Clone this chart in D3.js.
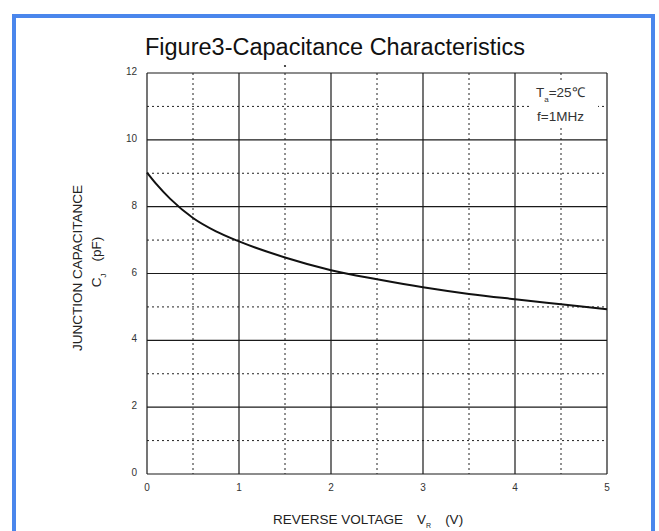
<!DOCTYPE html>
<html>
<head>
<meta charset="utf-8">
<script src="https://cdn.jsdelivr.net/npm/d3@7"></script>
<style>
  body { margin: 0; background: #fff; }
  text { font-family: "Liberation Sans", Arial, sans-serif; }
</style>
</head>
<body>
<div class="chart"></div>
<script>
const voltage = [0, 0.1, 0.25, 0.5, 0.75, 1, 1.5, 2, 2.5, 3, 3.5, 4, 4.5, 5];
const capacitance = [9.02, 8.68, 8.24, 7.66, 7.26, 6.96, 6.48, 6.1, 5.83, 5.59, 5.39, 5.23, 5.08, 4.93];
const xTicks = [0, 1, 2, 3, 4, 5];
const yTicks = [0, 2, 4, 6, 8, 10, 12];
const xMinor = [0.5, 1.5, 2.5, 3.5, 4.5];
const yMinor = [1, 3, 5, 7, 9, 11];

const width = 659;
const height = 531;
const margin = { top: 73, right: 52, bottom: 57, left: 147 };

const svg = d3
  .select(".chart")
  .append("svg")
  .attr("width", width)
  .attr("height", height);

svg.append("rect")
  .attr("x", 14).attr("y", 16)
  .attr("width", 639).attr("height", 600)
  .attr("fill", "#fff")
  .attr("stroke", "#4a86ec")
  .attr("stroke-width", 4);

const x = d3.scaleLinear().domain([0, 5]).range([margin.left, width - margin.right]);
const y = d3.scaleLinear().domain([0, 12]).range([height - margin.bottom, margin.top]);

// dotted minor grid
svg.append("g")
  .selectAll("line")
  .data(xMinor)
  .join("line")
  .attr("x1", (d) => x(d)).attr("x2", (d) => x(d))
  .attr("y1", y(12)).attr("y2", y(0))
  .attr("stroke", "#222")
  .attr("stroke-width", 1)
  .attr("stroke-dasharray", "2,3");

svg.append("g")
  .selectAll("line")
  .data(yMinor)
  .join("line")
  .attr("x1", x(0)).attr("x2", x(5))
  .attr("y1", (d) => y(d)).attr("y2", (d) => y(d))
  .attr("stroke", "#222")
  .attr("stroke-width", 1)
  .attr("stroke-dasharray", "2,3");

// solid major grid
svg.append("g")
  .selectAll("line")
  .data(xTicks)
  .join("line")
  .attr("x1", (d) => x(d)).attr("x2", (d) => x(d))
  .attr("y1", y(12)).attr("y2", y(0))
  .attr("stroke", "#1a1a1a")
  .attr("stroke-width", 1.2);

svg.append("g")
  .selectAll("line")
  .data(yTicks)
  .join("line")
  .attr("x1", x(0)).attr("x2", x(5))
  .attr("y1", (d) => y(d)).attr("y2", (d) => y(d))
  .attr("stroke", "#1a1a1a")
  .attr("stroke-width", 1.2);

// white box behind conditions
svg.append("rect")
  .attr("x", 530).attr("y", 80)
  .attr("width", 68).attr("height", 48)
  .attr("fill", "#fff");

// curve
svg.append("path")
  .datum(voltage.map((v, i) => [v, capacitance[i]]))
  .attr("fill", "none")
  .attr("stroke", "#111")
  .attr("stroke-width", 2)
  .attr("d", d3.line().x((d) => x(d[0])).y((d) => y(d[1])).curve(d3.curveMonotoneX));

// stray mark above the plot
svg.append("circle")
  .attr("cx", x(1.5)).attr("cy", y(12) - 7)
  .attr("r", 1.1)
  .attr("fill", "#222");

// tick labels
svg.append("g")
  .selectAll("text")
  .data(yTicks)
  .join("text")
  .attr("x", x(0) - 10)
  .attr("y", (d) => y(d) + 2)
  .attr("text-anchor", "end")
  .style("font-size", "10px")
  .attr("fill", "#333")
  .text((d) => d);

svg.append("g")
  .selectAll("text")
  .data(xTicks)
  .join("text")
  .attr("x", (d) => x(d))
  .attr("y", y(0) + 17)
  .attr("text-anchor", "middle")
  .style("font-size", "10px")
  .attr("fill", "#333")
  .text((d) => d);

// title
svg.append("text")
  .attr("x", 335)
  .attr("y", 55)
  .attr("text-anchor", "middle")
  .style("font-size", "23.5px")
  .attr("fill", "#111")
  .text("Figure3-Capacitance Characteristics");

// conditions
const cond = svg.append("text")
  .attr("x", 536).attr("y", 97)
  .style("font-size", "13.5px")
  .attr("fill", "#333");
cond.append("tspan").text("T");
cond.append("tspan").attr("dy", 5).style("font-size", "8px").text("a");
cond.append("tspan").attr("dy", -5).text("=25℃");

svg.append("text")
  .attr("x", 537).attr("y", 121)
  .style("font-size", "13.5px")
  .attr("fill", "#333")
  .text("f=1MHz");

// x axis title
const xt = svg.append("text")
  .attr("x", 273).attr("y", 524)
  .style("font-size", "13.5px")
  .attr("fill", "#222");
xt.append("tspan").text("REVERSE VOLTAGE");
xt.append("tspan").attr("dx", 14).text("V");
xt.append("tspan").attr("dy", 4).style("font-size", "7px").text("R");
xt.append("tspan").attr("dy", -4).attr("dx", 14).text("(V)");

// y axis title
svg.append("text")
  .attr("transform", "translate(82,268) rotate(-90)")
  .attr("text-anchor", "middle")
  .style("font-size", "13.5px")
  .attr("fill", "#222")
  .text("JUNCTION CAPACITANCE");

const yt = svg.append("text")
  .attr("transform", "translate(101,262) rotate(-90)")
  .attr("text-anchor", "middle")
  .style("font-size", "13.5px")
  .attr("fill", "#222");
yt.append("tspan").text("C");
yt.append("tspan").attr("dy", 5).style("font-size", "8px").text("J");
yt.append("tspan").attr("dy", -5).attr("dx", 12).text("(pF)");
</script>
</body>
</html>
